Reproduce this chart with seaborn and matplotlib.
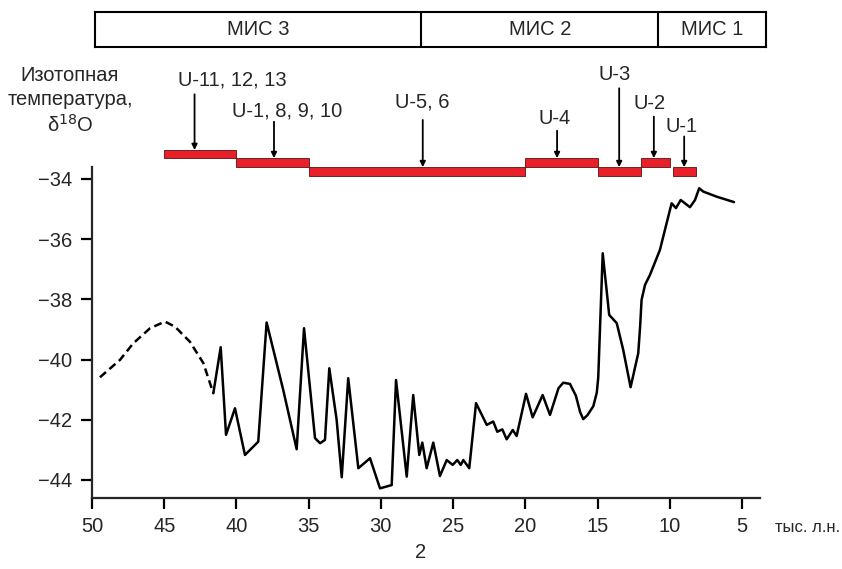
import matplotlib
matplotlib.use("Agg")
import matplotlib.pyplot as plt
import seaborn as sns
import pandas as pd

# ---------------- data ----------------
age_dashed = [49.45, 48.06, 47.14, 45.98, 44.95, 44.25, 43.22, 42.29, 41.60]
d18o_dashed = [-40.59, -40.01, -39.46, -38.96, -38.74, -38.91, -39.41, -40.12, -41.12]

age_solid = [41.60, 41.09, 40.72, 40.10, 39.41, 38.49, 37.91, 36.76, 35.83, 35.32,
             34.56, 34.21, 33.87, 33.57, 33.06, 32.71, 32.26, 31.56, 30.75, 30.06,
             29.25, 28.95, 28.21, 27.76, 27.34, 27.13, 26.83, 26.37, 25.91, 25.44,
             25.03, 24.71, 24.47, 24.29, 23.88, 23.41, 22.67, 22.22, 21.94, 21.59,
             21.29, 20.87, 20.60, 19.95, 19.49, 18.80, 18.29, 17.70, 17.37, 16.91,
             16.50, 16.20, 15.99, 15.70, 15.29, 15.05, 14.95, 14.64, 14.19, 13.67,
             13.22, 12.71, 12.18, 12.05, 11.95, 11.71, 11.37, 10.68, 9.87, 9.57,
             9.24, 8.60, 8.25, 7.96, 7.68, 6.75, 5.55]
d18o_solid = [-41.12, -39.59, -42.50, -41.62, -43.17, -42.73, -38.77, -41.01, -42.98, -38.96,
              -42.61, -42.78, -42.67, -40.29, -42.01, -43.91, -40.62, -43.61, -43.28, -44.28,
              -44.17, -40.68, -43.89, -41.18, -43.17, -42.76, -43.61, -42.76, -43.87, -43.34,
              -43.50, -43.34, -43.50, -43.34, -43.61, -41.45, -42.17, -42.06, -42.40, -42.32,
              -42.65, -42.34, -42.54, -41.14, -41.92, -41.18, -41.84, -40.95, -40.77, -40.81,
              -41.20, -41.75, -41.98, -41.85, -41.55, -41.10, -40.60, -36.47, -38.52, -38.79,
              -39.68, -40.92, -39.79, -38.90, -38.02, -37.52, -37.19, -36.36, -34.81, -34.97,
              -34.70, -34.94, -34.70, -34.31, -34.42, -34.59, -34.77]

sample_labels = ["U-11, 12, 13", "U-1, 8, 9, 10", "U-5, 6", "U-4", "U-3", "U-2", "U-1"]
sample_from = [45.0, 40.0, 35.0, 20.0, 15.0, 12.0, 9.8]
sample_to = [40.0, 35.0, 20.0, 15.0, 12.0, 10.0, 8.2]
arrow_age = [42.9, 37.4, 27.1, 17.8, 13.5, 11.1, 9.0]

mis_labels = ["МИС 3", "МИС 2", "МИС 1"]
mis_edges = [49.8, 27.2, 10.8, 3.33]

x_ticks = [50, 45, 40, 35, 30, 25, 20, 15, 10, 5]
y_ticks = [-34, -36, -38, -40, -42, -44]

# ---------------- layout / style ----------------
bar_levels = [(-33.31, -33.04), (-33.61, -33.31), (-33.89, -33.61)]
sample_level = [0, 1, 2, 1, 2, 1, 2]
label_x = [40.3, 36.5, 27.15, 18.0, 13.8, 11.4, 9.2]
label_y = [-30.71, -31.76, -31.43, -31.98, -30.54, -31.49, -32.26]
arrow_top = [-31.19, -32.10, -32.04, -32.40, -30.99, -31.93, -32.59]

FS = 14.5

sns.set_style("ticks")
plt.rcParams['font.family'] = ['Liberation Sans', 'DejaVu Sans']
plt.rcParams['axes.unicode_minus'] = True

W, H = 842, 569
fig = plt.figure(figsize=(W / 100, H / 100), dpi=100)

ax = fig.add_axes([92 / W, 1 - 498 / H, 668 / W, 438 / H])

df_d = pd.DataFrame({"age": age_dashed, "d18o": d18o_dashed})
df_s = pd.DataFrame({"age": age_solid, "d18o": d18o_solid})
sns.lineplot(data=df_d, x="age", y="d18o", ax=ax, color="black", lw=1.8,
             dashes=False, sort=False, linestyle=(0, (3.2, 1.8)))
sns.lineplot(data=df_s, x="age", y="d18o", ax=ax, color="black", lw=1.8, sort=False)

# sample age bars
for i, lab in enumerate(sample_labels):
    lo, hi = bar_levels[sample_level[i]]
    ax.barh(y=lo, width=sample_to[i] - sample_from[i], left=sample_from[i],
            height=hi - lo, align="edge", color="#e8202a", edgecolor="#5a1010",
            linewidth=0.6, zorder=3)
    ax.annotate("", xy=(arrow_age[i], hi), xytext=(arrow_age[i], arrow_top[i]),
                arrowprops=dict(arrowstyle="-|>", lw=1.3, color="black",
                                mutation_scale=8, shrinkA=0, shrinkB=0),
                annotation_clip=False)
    ax.text(label_x[i], label_y[i], lab, ha="center", va="center", fontsize=FS)

ax.set_xlim(50, 3.75)
ax.set_ylim(-44.6, -30.05)
ax.set_xticks(x_ticks)
ax.set_xticklabels([str(t) for t in x_ticks])
ax.set_yticks(y_ticks)
ax.set_yticklabels([f"\u2212{abs(t)}" for t in y_ticks])
ax.set_xlabel("")
ax.set_ylabel("")
sns.despine(ax=ax)
ax.spines['left'].set_bounds(-44.6, -33.6)
for sp in ("left", "bottom"):
    ax.spines[sp].set_linewidth(1.6)
ax.tick_params(axis="both", direction="out", length=8, width=1.6,
               labelsize=FS, pad=6, color="black")

ax.text(1.022, -0.068, "тыс. л.н.", transform=ax.transAxes, ha="left",
        va="center", fontsize=12)

fig.text(70 / W, 1 - 101 / H, "Изотопная\nтемпература,\nδ$^{18}$O",
         ha="center", va="center", fontsize=FS, linespacing=1.3)
fig.text(421 / W, 1 - 553 / H, "2", ha="center", va="center", fontsize=FS)

# MIS band
bx = fig.add_axes([95 / W, 1 - 47 / H, 671 / W, 35 / H])
bx.set_xlim(mis_edges[0], mis_edges[-1])
bx.set_ylim(0, 1)
bx.set_xticks([])
bx.set_yticks([])
for sp in bx.spines.values():
    sp.set_visible(True)
    sp.set_linewidth(1.5)
    sp.set_color("black")
for e in mis_edges[1:-1]:
    bx.axvline(e, color="black", lw=1.5)
for i, lab in enumerate(mis_labels):
    bx.text((mis_edges[i] + mis_edges[i + 1]) / 2, 0.5, lab, ha="center",
            va="center", fontsize=FS)

fig.savefig("out.png", dpi=100)
